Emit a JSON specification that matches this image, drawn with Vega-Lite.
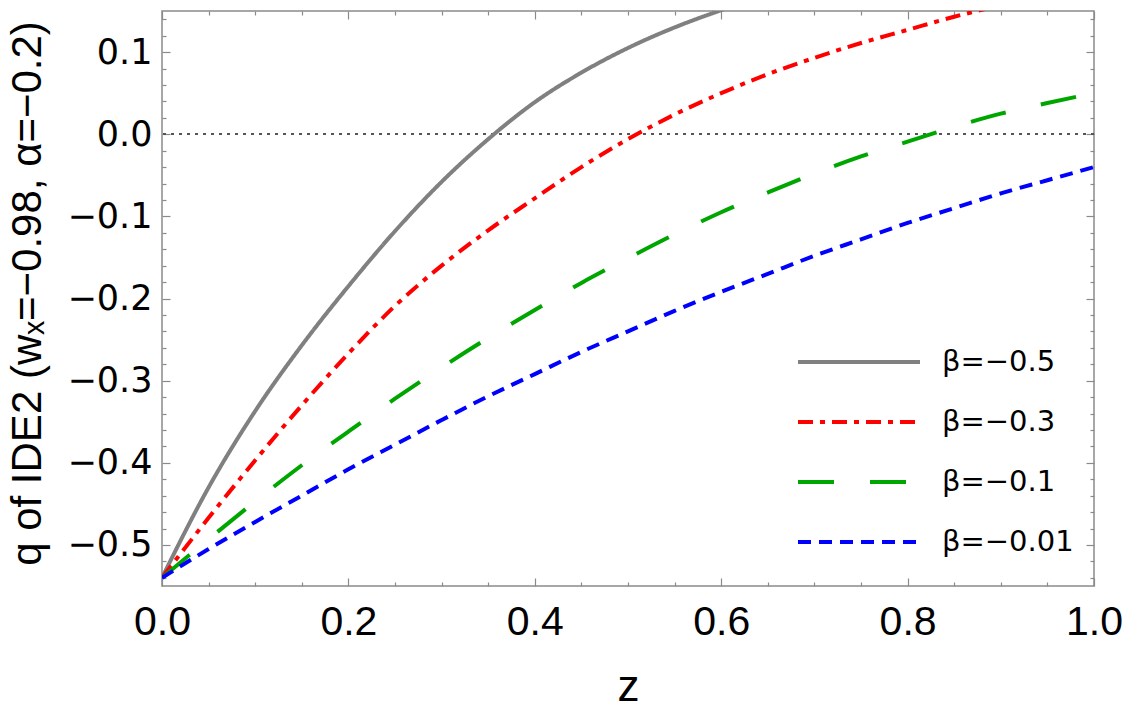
{
  "$schema": "https://vega.github.io/schema/vega-lite/v6.json",
  "width": 932,
  "height": 575,
  "autosize": {"type": "none"},
  "padding": {"left": 162, "top": 11, "right": 31, "bottom": 127},
  "background": "white",
  "config": {
    "view": {"stroke": "#8a8a8a", "strokeWidth": 1.5},
    "axis": {
      "domain": false,
      "grid": false,
      "tickColor": "#8a8a8a",
      "tickWidth": 1.2,
      "labelColor": "black",
      "titleColor": "black",
      "labelOverlap": false,
      "labelFlush": false
    }
  },
  "data": {
    "values": [
      {"z": 0.00, "q": -0.540, "beta": "β=−0.5"},
      {"z": 0.05, "q": -0.430, "beta": "β=−0.5"},
      {"z": 0.10, "q": -0.337, "beta": "β=−0.5"},
      {"z": 0.15, "q": -0.257, "beta": "β=−0.5"},
      {"z": 0.20, "q": -0.185, "beta": "β=−0.5"},
      {"z": 0.25, "q": -0.118, "beta": "β=−0.5"},
      {"z": 0.30, "q": -0.058, "beta": "β=−0.5"},
      {"z": 0.35, "q": -0.006, "beta": "β=−0.5"},
      {"z": 0.40, "q": 0.039, "beta": "β=−0.5"},
      {"z": 0.45, "q": 0.075, "beta": "β=−0.5"},
      {"z": 0.50, "q": 0.105, "beta": "β=−0.5"},
      {"z": 0.55, "q": 0.130, "beta": "β=−0.5"},
      {"z": 0.60, "q": 0.151, "beta": "β=−0.5"},
      {"z": 0.65, "q": 0.170, "beta": "β=−0.5"},

      {"z": 0.00, "q": -0.540, "beta": "β=−0.3"},
      {"z": 0.05, "q": -0.467, "beta": "β=−0.3"},
      {"z": 0.10, "q": -0.397, "beta": "β=−0.3"},
      {"z": 0.15, "q": -0.330, "beta": "β=−0.3"},
      {"z": 0.20, "q": -0.267, "beta": "β=−0.3"},
      {"z": 0.25, "q": -0.209, "beta": "β=−0.3"},
      {"z": 0.30, "q": -0.160, "beta": "β=−0.3"},
      {"z": 0.35, "q": -0.117, "beta": "β=−0.3"},
      {"z": 0.40, "q": -0.078, "beta": "β=−0.3"},
      {"z": 0.45, "q": -0.040, "beta": "β=−0.3"},
      {"z": 0.50, "q": -0.006, "beta": "β=−0.3"},
      {"z": 0.55, "q": 0.024, "beta": "β=−0.3"},
      {"z": 0.60, "q": 0.050, "beta": "β=−0.3"},
      {"z": 0.65, "q": 0.073, "beta": "β=−0.3"},
      {"z": 0.70, "q": 0.093, "beta": "β=−0.3"},
      {"z": 0.75, "q": 0.111, "beta": "β=−0.3"},
      {"z": 0.80, "q": 0.127, "beta": "β=−0.3"},
      {"z": 0.85, "q": 0.143, "beta": "β=−0.3"},
      {"z": 0.90, "q": 0.157, "beta": "β=−0.3"},

      {"z": 0.00, "q": -0.540, "beta": "β=−0.1"},
      {"z": 0.05, "q": -0.493, "beta": "β=−0.1"},
      {"z": 0.10, "q": -0.447, "beta": "β=−0.1"},
      {"z": 0.15, "q": -0.403, "beta": "β=−0.1"},
      {"z": 0.20, "q": -0.362, "beta": "β=−0.1"},
      {"z": 0.25, "q": -0.322, "beta": "β=−0.1"},
      {"z": 0.30, "q": -0.284, "beta": "β=−0.1"},
      {"z": 0.35, "q": -0.248, "beta": "β=−0.1"},
      {"z": 0.40, "q": -0.214, "beta": "β=−0.1"},
      {"z": 0.45, "q": -0.181, "beta": "β=−0.1"},
      {"z": 0.50, "q": -0.151, "beta": "β=−0.1"},
      {"z": 0.55, "q": -0.122, "beta": "β=−0.1"},
      {"z": 0.60, "q": -0.095, "beta": "β=−0.1"},
      {"z": 0.65, "q": -0.071, "beta": "β=−0.1"},
      {"z": 0.70, "q": -0.048, "beta": "β=−0.1"},
      {"z": 0.75, "q": -0.027, "beta": "β=−0.1"},
      {"z": 0.80, "q": -0.009, "beta": "β=−0.1"},
      {"z": 0.85, "q": 0.009, "beta": "β=−0.1"},
      {"z": 0.90, "q": 0.025, "beta": "β=−0.1"},
      {"z": 0.95, "q": 0.038, "beta": "β=−0.1"},
      {"z": 1.00, "q": 0.050, "beta": "β=−0.1"},

      {"z": 0.00, "q": -0.540, "beta": "β=−0.01"},
      {"z": 0.05, "q": -0.505, "beta": "β=−0.01"},
      {"z": 0.10, "q": -0.472, "beta": "β=−0.01"},
      {"z": 0.15, "q": -0.440, "beta": "β=−0.01"},
      {"z": 0.20, "q": -0.408, "beta": "β=−0.01"},
      {"z": 0.25, "q": -0.378, "beta": "β=−0.01"},
      {"z": 0.30, "q": -0.348, "beta": "β=−0.01"},
      {"z": 0.35, "q": -0.319, "beta": "β=−0.01"},
      {"z": 0.40, "q": -0.292, "beta": "β=−0.01"},
      {"z": 0.45, "q": -0.265, "beta": "β=−0.01"},
      {"z": 0.50, "q": -0.240, "beta": "β=−0.01"},
      {"z": 0.55, "q": -0.215, "beta": "β=−0.01"},
      {"z": 0.60, "q": -0.192, "beta": "β=−0.01"},
      {"z": 0.65, "q": -0.170, "beta": "β=−0.01"},
      {"z": 0.70, "q": -0.148, "beta": "β=−0.01"},
      {"z": 0.75, "q": -0.128, "beta": "β=−0.01"},
      {"z": 0.80, "q": -0.108, "beta": "β=−0.01"},
      {"z": 0.85, "q": -0.090, "beta": "β=−0.01"},
      {"z": 0.90, "q": -0.072, "beta": "β=−0.01"},
      {"z": 0.95, "q": -0.056, "beta": "β=−0.01"},
      {"z": 1.00, "q": -0.040, "beta": "β=−0.01"}
    ]
  },
  "resolve": {"axis": {"x": "independent", "y": "independent"}},
  "layer": [
    {
      "mark": {"type": "rule", "color": "#555555", "strokeWidth": 1, "strokeDash": [3, 5]},
      "encoding": {
        "y": {"datum": 0, "type": "quantitative", "scale": {"domain": [-0.55, 0.15], "nice": false, "zero": false}, "axis": null}
      }
    },
    {
      "mark": {"type": "line", "strokeWidth": 4, "clip": true, "interpolate": "monotone"},
      "encoding": {
        "x": {
          "field": "z", "type": "quantitative",
          "scale": {"domain": [0, 1], "nice": false, "zero": false},
          "axis": {
            "orient": "bottom", "values": [0, 0.2, 0.4, 0.6, 0.8, 1], "format": ".1f",
            "tickSize": -8, "labelPadding": 24,
            "labelFont": "Liberation Sans", "labelFontSize": 41,
            "title": "z", "titleFont": "Liberation Sans", "titleFontSize": 44, "titleFontWeight": "normal",
            "titleBaseline": "alphabetic", "titleY": 114
          }
        },
        "y": {
          "field": "q", "type": "quantitative",
          "scale": {"domain": [-0.55, 0.15], "nice": false, "zero": false},
          "axis": {
            "orient": "left", "values": [-0.5, -0.4, -0.3, -0.2, -0.1, 0, 0.1], "format": ".1f",
            "tickSize": -8, "labelPadding": 18,
            "labelFont": "DejaVu Sans", "labelFontSize": 35,
            "title": "q of IDE2 (wₓ=−0.98, α=−0.2)", "titleFont": "Liberation Sans", "titleFontSize": 42,
            "titleFontWeight": "normal", "titleBaseline": "alphabetic", "titleX": -122, "titleY": 282
          }
        },
        "color": {
          "field": "beta", "type": "nominal",
          "scale": {"domain": ["β=−0.5", "β=−0.3", "β=−0.1", "β=−0.01"], "range": ["#808080", "#ff0000", "#00a600", "#0000ff"]},
          "legend": {
            "orient": "none", "legendX": 634, "legendY": 336, "title": null, "padding": 0,
            "symbolType": "stroke", "symbolSize": 14884, "symbolStrokeWidth": 4,
            "clipHeight": 30, "rowPadding": 30, "labelOffset": 20,
            "labelFont": "DejaVu Sans", "labelFontSize": 29, "labelColor": "black"
          }
        },
        "strokeDash": {
          "field": "beta", "type": "nominal",
          "scale": {"domain": ["β=−0.5", "β=−0.3", "β=−0.1", "β=−0.01"], "range": [[1, 0], [15, 7, 5, 7], [36, 36], [13, 8]]},
          "legend": {
            "orient": "none", "legendX": 634, "legendY": 336, "title": null, "padding": 0,
            "symbolType": "stroke", "symbolSize": 14884, "symbolStrokeWidth": 4,
            "clipHeight": 30, "rowPadding": 30, "labelOffset": 20,
            "labelFont": "DejaVu Sans", "labelFontSize": 29, "labelColor": "black"
          }
        }
      }
    },
    {
      "mark": {"type": "point", "opacity": 0},
      "encoding": {
        "x": {
          "field": "z", "type": "quantitative",
          "axis": {"orient": "bottom", "values": [0.05, 0.1, 0.15, 0.25, 0.3, 0.35, 0.45, 0.5, 0.55, 0.65, 0.7, 0.75, 0.85, 0.9, 0.95], "tickSize": -4, "labels": false, "title": null}
        },
        "y": {
          "field": "q", "type": "quantitative",
          "axis": {"orient": "left", "values": [-0.54, -0.52, -0.48, -0.46, -0.44, -0.42, -0.38, -0.36, -0.34, -0.32, -0.28, -0.26, -0.24, -0.22, -0.18, -0.16, -0.14, -0.12, -0.08, -0.06, -0.04, -0.02, 0.02, 0.04, 0.06, 0.08, 0.12, 0.14], "tickSize": -4, "labels": false, "title": null}
        }
      }
    },
    {
      "mark": {"type": "point", "opacity": 0},
      "encoding": {
        "x": {
          "field": "z", "type": "quantitative",
          "axis": {"orient": "top", "values": [0, 0.2, 0.4, 0.6, 0.8, 1], "tickSize": -8, "labels": false, "title": null}
        },
        "y": {
          "field": "q", "type": "quantitative",
          "axis": {"orient": "right", "values": [-0.5, -0.4, -0.3, -0.2, -0.1, 0, 0.1], "tickSize": -8, "labels": false, "title": null}
        }
      }
    },
    {
      "mark": {"type": "point", "opacity": 0},
      "encoding": {
        "x": {
          "field": "z", "type": "quantitative",
          "axis": {"orient": "top", "values": [0.05, 0.1, 0.15, 0.25, 0.3, 0.35, 0.45, 0.5, 0.55, 0.65, 0.7, 0.75, 0.85, 0.9, 0.95], "tickSize": -4, "labels": false, "title": null}
        },
        "y": {
          "field": "q", "type": "quantitative",
          "axis": {"orient": "right", "values": [-0.54, -0.52, -0.48, -0.46, -0.44, -0.42, -0.38, -0.36, -0.34, -0.32, -0.28, -0.26, -0.24, -0.22, -0.18, -0.16, -0.14, -0.12, -0.08, -0.06, -0.04, -0.02, 0.02, 0.04, 0.06, 0.08, 0.12, 0.14], "tickSize": -4, "labels": false, "title": null}
        }
      }
    }
  ]
}
